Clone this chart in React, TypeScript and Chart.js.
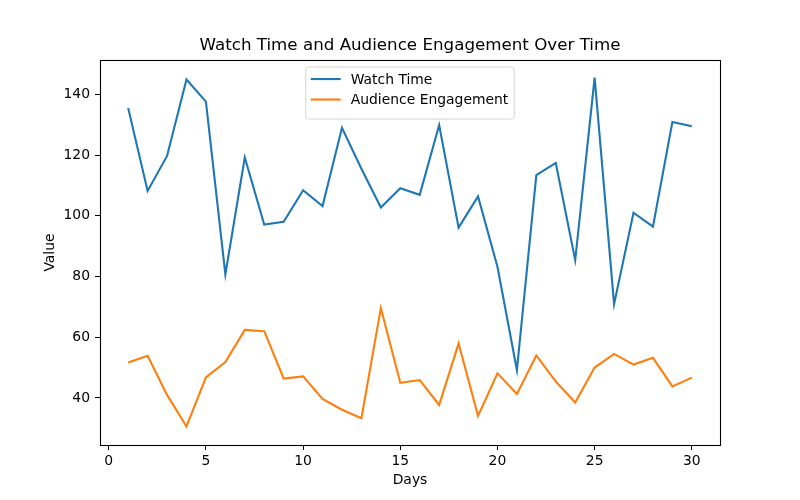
import React, { useEffect, useRef } from "react";
import { Chart, registerables } from "chart.js";

Chart.register(...registerables);

const days: number[] = Array.from({ length: 30 }, (_, i) => i + 1);
const watchTime: number[] = [
  135.5, 108.2, 119.7, 144.9, 137.6, 80.7, 119.2, 97.1, 98.0, 108.4,
  103.2, 129.0, 115.5, 102.7, 109.1, 106.9, 129.9, 96.1, 106.4, 83.2,
  49.2, 113.4, 117.4, 85.4, 145.5, 70.9, 101.0, 96.4, 130.9, 129.5,
];
const audienceEngagement: number[] = [
  51.7, 53.9, 41.0, 30.6, 46.8, 51.8, 62.4, 62.0, 46.4, 47.1,
  39.7, 36.1, 33.3, 69.6, 45.0, 45.9, 37.7, 57.9, 34.1, 48.1,
  41.3, 54.0, 45.4, 38.5, 50.0, 54.5, 51.0, 53.2, 43.8, 46.7,
];
const xTicks: number[] = [0, 5, 10, 15, 20, 25, 30];
const yTicks: number[] = [40, 60, 80, 100, 120, 140];

const FONT = "'DejaVu Sans', sans-serif";

const framePlugin = {
  id: "frame",
  afterDatasetsDraw(chart: any) {
    const { ctx, chartArea } = chart;
    ctx.save();
    ctx.strokeStyle = "#000";
    ctx.lineWidth = 1.1;
    ctx.strokeRect(
      Math.round(chartArea.left) + 0.5,
      Math.round(chartArea.top) + 0.5,
      Math.round(chartArea.right - chartArea.left),
      Math.round(chartArea.bottom - chartArea.top)
    );
    ctx.restore();
  },
};

const legendPlugin = {
  id: "mplLegend",
  afterDraw(chart: any) {
    const { ctx, chartArea } = chart;
    const ds = chart.data.datasets;
    const fontSize = 13.9;
    ctx.save();
    ctx.font = `${fontSize}px ${FONT}`;
    let maxW = 0;
    ds.forEach((d: any) => {
      maxW = Math.max(maxW, ctx.measureText(d.label).width);
    });
    const rowH = 20.5;
    const boxW = 5 + 30 + 10 + maxW + 6;
    const boxH = 7 + rowH * ds.length + 4;
    const cx = (chartArea.left + chartArea.right) / 2;
    const x0 = cx - boxW / 2;
    const y0 = chartArea.top + 7;
    const r = 3;
    ctx.beginPath();
    ctx.moveTo(x0 + r, y0);
    ctx.lineTo(x0 + boxW - r, y0);
    ctx.quadraticCurveTo(x0 + boxW, y0, x0 + boxW, y0 + r);
    ctx.lineTo(x0 + boxW, y0 + boxH - r);
    ctx.quadraticCurveTo(x0 + boxW, y0 + boxH, x0 + boxW - r, y0 + boxH);
    ctx.lineTo(x0 + r, y0 + boxH);
    ctx.quadraticCurveTo(x0, y0 + boxH, x0, y0 + boxH - r);
    ctx.lineTo(x0, y0 + r);
    ctx.quadraticCurveTo(x0, y0, x0 + r, y0);
    ctx.closePath();
    ctx.fillStyle = "rgba(255,255,255,0.8)";
    ctx.fill();
    ctx.strokeStyle = "#d6d6d6";
    ctx.lineWidth = 1;
    ctx.stroke();
    ds.forEach((d: any, i: number) => {
      const y = y0 + 12 + i * rowH;
      ctx.strokeStyle = d.borderColor;
      ctx.lineWidth = 2.1;
      ctx.beginPath();
      ctx.moveTo(x0 + 5, y);
      ctx.lineTo(x0 + 35, y);
      ctx.stroke();
      ctx.fillStyle = "#000";
      ctx.textBaseline = "middle";
      ctx.textAlign = "left";
      ctx.fillText(d.label, x0 + 45, y + 1);
    });
    ctx.restore();
  },
};

export default function App() {
  const canvasRef = useRef<HTMLCanvasElement | null>(null);

  useEffect(() => {
    document.body.style.margin = "0";
    const canvas = canvasRef.current;
    if (!canvas) return;
    const chart = new Chart(canvas, {
      type: "line",
      data: {
        datasets: [
          {
            label: "Watch Time",
            data: days.map((d, i) => ({ x: d, y: watchTime[i] })),
            borderColor: "#1f77b4",
            backgroundColor: "#1f77b4",
            borderWidth: 2.1,
            pointRadius: 0,
            tension: 0,
          },
          {
            label: "Audience Engagement",
            data: days.map((d, i) => ({ x: d, y: audienceEngagement[i] })),
            borderColor: "#ff7f0e",
            backgroundColor: "#ff7f0e",
            borderWidth: 2.1,
            pointRadius: 0,
            tension: 0,
          },
        ],
      },
      options: {
        animation: false,
        responsive: false,
        maintainAspectRatio: false,
        layout: { padding: { left: 0, right: 80, top: 0, bottom: 0 } },
        plugins: {
          legend: { display: false },
          tooltip: { enabled: false },
          title: {
            display: true,
            fullSize: false,
            text: "Watch Time and Audience Engagement Over Time",
            color: "#000",
            font: { family: FONT, size: 16.7, weight: "normal" },
            padding: { top: 36, bottom: 4 },
          },
        },
        scales: {
          x: {
            type: "linear",
            min: -0.45,
            max: 31.45,
            afterBuildTicks: (scale: any) => {
              scale.ticks = xTicks.map((v) => ({ value: v }));
            },
            afterFit: (scale: any) => {
              scale.height = 55;
            },
            grid: {
              display: true,
              drawOnChartArea: false,
              drawTicks: true,
              tickLength: 5,
              color: "#000",
              lineWidth: 1,
            },
            border: { display: true, color: "#000", width: 1 },
            ticks: {
              color: "#000",
              font: { family: FONT, size: 13.9 },
              padding: 3,
              maxRotation: 0,
              autoSkip: false,
            },
            title: {
              display: true,
              text: "Days",
              color: "#000",
              font: { family: FONT, size: 13.9 },
              padding: { top: 4, bottom: 11 },
            },
          },
          y: {
            type: "linear",
            min: 24.5,
            max: 151.3,
            afterBuildTicks: (scale: any) => {
              scale.ticks = yTicks.map((v) => ({ value: v }));
            },
            afterFit: (scale: any) => {
              scale.width = 100;
            },
            grid: {
              display: true,
              drawOnChartArea: false,
              drawTicks: true,
              tickLength: 5,
              color: "#000",
              lineWidth: 1,
            },
            border: { display: true, color: "#000", width: 1 },
            ticks: {
              color: "#000",
              font: { family: FONT, size: 13.9 },
              padding: 5,
              autoSkip: false,
            },
            title: {
              display: true,
              text: "Value",
              color: "#000",
              font: { family: FONT, size: 13.9 },
              padding: { top: 42, bottom: 42 },
            },
          },
        },
      },
      plugins: [framePlugin, legendPlugin],
    } as any);
    return () => chart.destroy();
  }, []);

  return (
    <div style={{ position: "absolute", left: 0, top: 0, width: 800, height: 500, background: "#fff" }}>
      <canvas ref={canvasRef} width={800} height={500} style={{ width: 800, height: 500 }} />
    </div>
  );
}
